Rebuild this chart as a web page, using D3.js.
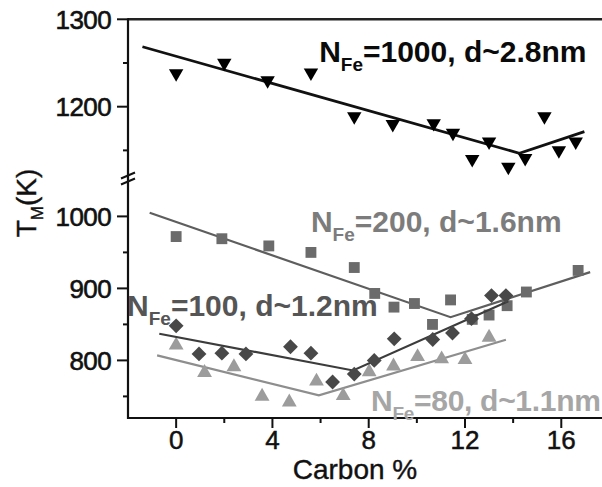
<!DOCTYPE html>
<html>
<head>
<meta charset="utf-8">
<script src="https://cdn.jsdelivr.net/npm/d3@7"></script>
<style>
  html, body { margin: 0; padding: 0; background: #ffffff; }
  svg { display: block; font-family: "Liberation Sans", Arial, sans-serif; }
</style>
</head>
<body>
<svg id="chart" width="602" height="487"></svg>
<script>
// ---------- data ----------
const xMajorTicks = [0, 4, 8, 12, 16];
const xMinorTicks = [2, 6, 10, 14];
const yUpperTicks = [1200, 1300];
const yUpperMinor = [1150, 1250];
const yLowerTicks = [800, 900, 1000];
const yLowerMinor = [750, 850, 950];

// N_Fe = 1000 (down triangles, upper panel)
const n1000X = [0, 2, 3.8, 5.6, 7.4, 9.0, 10.7, 11.5, 12.3, 13.0, 13.8, 14.5, 15.3, 15.9, 16.6];
const n1000T = [1238, 1250, 1230, 1239, 1189, 1180, 1181, 1170, 1140, 1160, 1131, 1141, 1189, 1150, 1160];
const n1000FitX = [-1.4, 14.26, 16.96];
const n1000FitT = [1268.6, 1146.7, 1171.4];

// N_Fe = 200 (squares)
const n200X = [0, 1.9, 3.85, 5.6, 7.4, 8.25, 9.05, 9.9, 10.65, 11.4, 12.3, 13.0, 13.75, 14.55, 16.7];
const n200T = [972, 969, 959, 950, 929, 893, 874, 879, 850, 884, 857, 863, 876, 895, 925];
const n200FitX = [-1.1, 11.4, 17.2];
const n200FitT = [1005, 860, 922.6];

// N_Fe = 100 (diamonds)
const n100X = [0, 0.95, 1.9, 2.9, 4.75, 5.6, 6.5, 7.4, 8.23, 9.06, 10.66, 11.48, 12.27, 13.1, 13.7];
const n100T = [848, 809, 810, 809, 819, 810, 770, 781, 800, 830, 829, 838, 858, 890, 890];
const n100FitX = [-0.7, 7.35, 13.8];
const n100FitT = [837, 786, 882];

// N_Fe = 80 (up triangles)
const n80X = [0, 1.18, 2.4, 3.57, 4.7, 5.83, 6.94, 8.02, 9.03, 10.03, 11.03, 12.0, 13.0];
const n80T = [821, 783, 791, 750, 742, 771, 751, 784, 792, 805, 802, 801, 832];
const n80FitX = [-0.79, 5.93, 13.7];
const n80FitT = [807, 751.4, 828.7];

// ---------- layout ----------
const svg = d3.select("#chart");
const axisX = 128, axisBottom = 418;
const x = d3.scaleLinear().domain([-2, 17.65]).range([axisX, 601]);
const yUp = d3.scaleLinear().domain([1120, 1300]).range([176.6, 19.3]);
const yLo = d3.scaleLinear().domain([720, 1050]).range([axisBottom, 180.4]);

const FONT = '"Liberation Sans", Arial, sans-serif';

// ---------- axes ----------
const g = svg.append("g");
g.append("line").attr("x1", axisX).attr("x2", 602).attr("y1", yUp(1300)).attr("y2", yUp(1300))
  .attr("stroke", "#222").attr("stroke-width", 2.5);
g.append("line").attr("x1", axisX).attr("x2", axisX).attr("y1", yUp(1300) - 1).attr("y2", axisBottom + 1)
  .attr("stroke", "#111").attr("stroke-width", 2.2);
g.append("line").attr("x1", axisX - 1).attr("x2", 602).attr("y1", axisBottom).attr("y2", axisBottom)
  .attr("stroke", "#111").attr("stroke-width", 2.2);

function yTicks(scale, major, minor) {
  major.forEach(v => {
    g.append("line").attr("x1", axisX - 11).attr("x2", axisX).attr("y1", scale(v)).attr("y2", scale(v))
      .attr("stroke", "#111").attr("stroke-width", 2);
    g.append("text").attr("x", axisX - 17).attr("y", scale(v)).attr("dy", "0.36em")
      .attr("text-anchor", "end").attr("font-size", 26).attr("letter-spacing", -0.6)
      .attr("fill", "#111").attr("stroke", "#111").attr("stroke-width", 0.6)
      .attr("font-family", FONT).text(v);
  });
  minor.forEach(v => {
    g.append("line").attr("x1", axisX - 5).attr("x2", axisX).attr("y1", scale(v)).attr("y2", scale(v))
      .attr("stroke", "#111").attr("stroke-width", 2);
  });
}
yTicks(yUp, yUpperTicks, yUpperMinor);
yTicks(yLo, yLowerTicks, yLowerMinor);

xMajorTicks.forEach(v => {
  g.append("line").attr("x1", x(v)).attr("x2", x(v)).attr("y1", axisBottom).attr("y2", axisBottom + 10)
    .attr("stroke", "#111").attr("stroke-width", 2);
  g.append("text").attr("x", x(v)).attr("y", axisBottom + 31)
    .attr("text-anchor", "middle").attr("font-size", 26).attr("fill", "#111")
    .attr("stroke", "#111").attr("stroke-width", 0.5)
    .attr("font-family", FONT).text(v);
});
xMinorTicks.forEach(v => {
  g.append("line").attr("x1", x(v)).attr("x2", x(v)).attr("y1", axisBottom).attr("y2", axisBottom + 5)
    .attr("stroke", "#111").attr("stroke-width", 2);
});

// axis break mark
const breakY = (yUp.range()[0] + yLo.range()[1]) / 2;
[-3, 3].forEach(off => {
  g.append("line").attr("x1", axisX - 7).attr("x2", axisX + 7)
    .attr("y1", breakY + off + 3).attr("y2", breakY + off - 3)
    .attr("stroke", "#111").attr("stroke-width", 2);
});

// axis titles
g.append("text").attr("x", 355).attr("y", 479).attr("text-anchor", "middle")
  .attr("font-size", 28).attr("fill", "#111").attr("stroke", "#111").attr("stroke-width", 0.4)
  .attr("font-family", FONT).text("Carbon %");

const yt = g.append("text").attr("transform", "translate(36,203) rotate(-90)")
  .attr("text-anchor", "middle").attr("font-size", 28).attr("fill", "#111")
  .attr("stroke", "#111").attr("stroke-width", 0.4).attr("font-family", FONT);
yt.append("tspan").text("T");
yt.append("tspan").attr("font-size", 17).attr("dy", 7).text("M");
yt.append("tspan").attr("dy", -7).text("(K)");

// ---------- series ----------
const series = [
  { xs: n1000X, ts: n1000T, fx: n1000FitX, ft: n1000FitT, y: yUp, sym: d3.symbolTriangle, size: 90, rot: 180,
    fill: "#000000", line: "#111111", lw: 2.8 },
  { xs: n200X, ts: n200T, fx: n200FitX, ft: n200FitT, y: yLo, sym: d3.symbolSquare, size: 118, rot: 0,
    fill: "#6b6b6b", line: "#5e5e5e", lw: 2.2 },
  { xs: n80X, ts: n80T, fx: n80FitX, ft: n80FitT, y: yLo, sym: d3.symbolTriangle, size: 95, rot: 0,
    fill: "#9c9c9c", line: "#8e8e8e", lw: 2.2 },
  { xs: n100X, ts: n100T, fx: n100FitX, ft: n100FitT, y: yLo, sym: d3.symbolSquare, size: 110, rot: 45,
    fill: "#484848", line: "#3c3c3c", lw: 2.2 }
];

series.forEach(s => {
  const pts = s.xs.map((v, i) => [v, s.ts[i]]);
  const fit = s.fx.map((v, i) => [v, s.ft[i]]);
  svg.append("path").datum(fit)
    .attr("d", d3.line().x(d => x(d[0])).y(d => s.y(d[1])))
    .attr("fill", "none").attr("stroke", s.line).attr("stroke-width", s.lw);
  svg.append("g").selectAll("path").data(pts).join("path")
    .attr("d", d3.symbol().type(s.sym).size(s.size))
    .attr("transform", d => `translate(${x(d[0])},${s.y(d[1])}) rotate(${s.rot})`)
    .attr("fill", s.fill);
});

// ---------- annotations ----------
function label(cx, ct, scale, num, d, color, spacing) {
  const t = svg.append("text").attr("x", x(cx)).attr("y", scale(ct))
    .attr("font-size", 30).attr("font-weight", "bold").attr("fill", color)
    .attr("letter-spacing", spacing).attr("font-family", FONT);
  t.append("tspan").text("N");
  t.append("tspan").attr("font-size", 19).attr("dy", 9).text("Fe");
  t.append("tspan").attr("dy", -9).text(`=${num}, d~${d}nm`);
}
label(5.94, 1251, yUp, 1000, "2.8", "#0a0a0a", 0);
label(5.6, 977.8, yLo, 200, "1.6", "#7c7c7c", 0);
label(-2.04, 861, yLo, 100, "1.2", "#555555", 0);
label(8.1, 729.5, yLo, 80, "1.1", "#a6a6a6", -0.3);
</script>
</body>
</html>
